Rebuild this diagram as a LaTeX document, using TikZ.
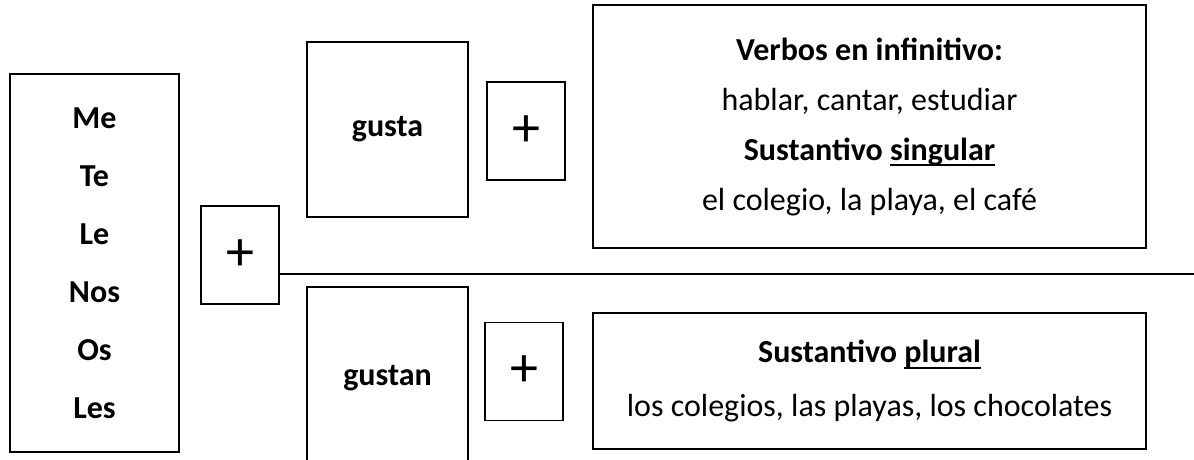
\documentclass[tikz,border=0pt]{standalone}
\usepackage{fontspec}
\setmainfont{Carlito}
\newcommand{\ulword}[1]{\setbox0\hbox{#1}\rlap{\rule[-6pt]{\wd0}{1.8pt}}\box0}
\tikzset{
  box/.style={draw,line width=1.6pt,inner sep=0pt,align=center},
  plusbox/.style={box,minimum width=78pt,minimum height=98pt,
    font=\fontsize{56}{56}\selectfont},
}
\begin{document}
\begin{tikzpicture}[x=1pt,y=-1pt,font=\fontsize{32}{50}\selectfont]
  \useasboundingbox (0,0) rectangle (1194,459);
  \clip (0,0) rectangle (1194,459);

  \node[box,minimum width=169pt,minimum height=378pt,
    font=\fontsize{32}{58}\selectfont\bfseries] (pronouns) at (94.5,263)
    {Me\\Te\\Le\\Nos\\Os\\Les};
  \node[plusbox] (plusL) at (240,255) {+};

  \node[box,minimum width=161pt,minimum height=175pt,font=\fontsize{32}{50}\selectfont\bfseries]
    (gusta) at (387.5,129.5) {gusta};
  \node[plusbox] (plusA) at (526,131) {+};
  \node[box,minimum width=553pt,minimum height=243pt] (singular) at (869.5,126.5)
    {{\bfseries Verbos en infinitivo:}\\hablar, cantar, estudiar\\
     {\bfseries Sustantivo \ulword{singular}}\\el colegio, la playa, el café};

  \node[box,minimum width=161pt,minimum height=182pt,font=\fontsize{32}{50}\selectfont\bfseries]
    (gustan) at (387.5,378) {gustan};
  \node[plusbox] (plusB) at (524,371.5) {+};
  \node[box,minimum width=553pt,minimum height=136pt,
    font=\fontsize{32}{54}\selectfont] (plural) at (869.5,381)
    {{\bfseries Sustantivo \ulword{plural}}\\los colegios, las playas, los chocolates};

  \coordinate (lineend) at (1194,274);
  \draw[line width=2pt] (plusL.east |- lineend) -- (lineend);
\end{tikzpicture}
\end{document}
